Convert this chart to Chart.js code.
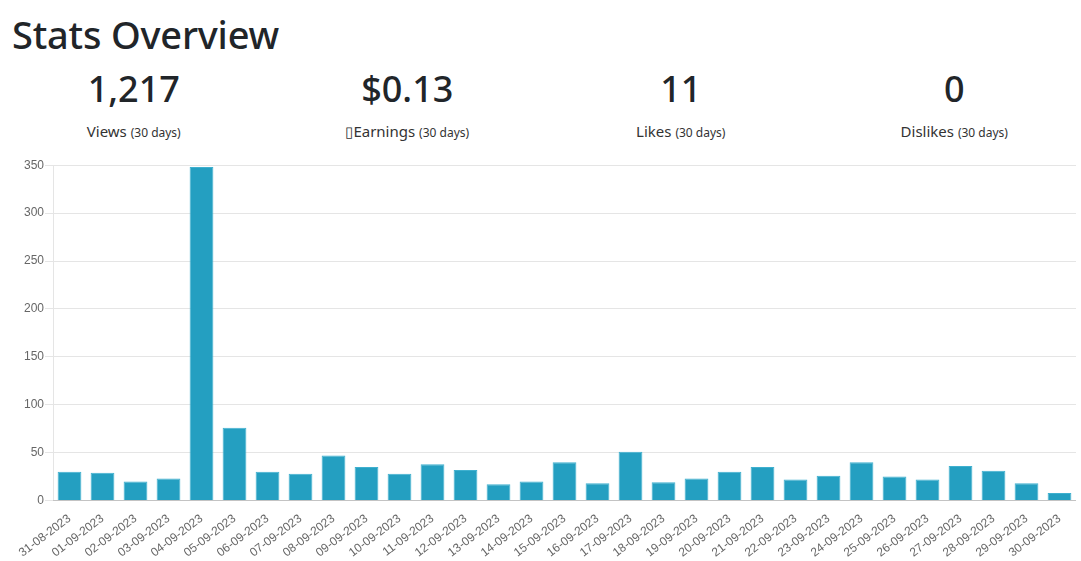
<!DOCTYPE html>
<html>
<head>
<meta charset="utf-8">
<script src="https://cdn.jsdelivr.net/npm/chart.js@4"></script>
<style>
  html, body { margin: 0; padding: 0; background: #fff; width: 1081px; height: 561px; overflow: hidden; }
  body { font-family: "Noto Sans", "Open Sans", sans-serif; color: #212529; position: relative; }
  h1 { position: absolute; left: 12px; top: 10px; margin: 0; font-size: 38px; font-weight: 500; line-height: 48px; letter-spacing: -0.2px; }
  .stats { position: absolute; left: -3px; top: 63px; width: 1094px; display: flex; }
  .stat { flex: 1; text-align: center; }
  .num { font-size: 36px; font-weight: 500; line-height: 52px; }
  .lbl { font-size: 15px; line-height: 20px; margin-top: 6px; color: #333; }
  .lbl small { font-size: 12px; }
  .wrap { position: absolute; left: 17px; top: 157px; width: 1059px; height: 406px; }
</style>
</head>
<body>
<h1>Stats Overview</h1>
<div class="stats" id="stats"></div>
<div class="wrap"><canvas id="c"></canvas></div>
<script>
const statValues = ["1,217", "$0.13", "11", "0"];
const statLabels = ["Views", "\u25AFEarnings", "Likes", "Dislikes"];
const statPeriod = "(30 days)";

const dates = ["31-08-2023","01-09-2023","02-09-2023","03-09-2023","04-09-2023","05-09-2023","06-09-2023","07-09-2023","08-09-2023","09-09-2023","10-09-2023","11-09-2023","12-09-2023","13-09-2023","14-09-2023","15-09-2023","16-09-2023","17-09-2023","18-09-2023","19-09-2023","20-09-2023","21-09-2023","22-09-2023","23-09-2023","24-09-2023","25-09-2023","26-09-2023","27-09-2023","28-09-2023","29-09-2023","30-09-2023"];
const views = [30,29,20,23,348,76,30,28,47,35,28,38,32,17,20,40,18,51,19,23,30,35,22,26,40,25,22,36,31,18,8];

const statsEl = document.getElementById('stats');
statValues.forEach((v, i) => {
  const d = document.createElement('div');
  d.className = 'stat';
  d.innerHTML = '<div class="num"></div><div class="lbl"><span></span> <small></small></div>';
  d.querySelector('.num').textContent = v;
  d.querySelector('.lbl span').textContent = statLabels[i];
  d.querySelector('.lbl small').textContent = statPeriod;
  statsEl.appendChild(d);
});

Chart.defaults.font.family = '"Liberation Sans", Arial, Helvetica, sans-serif';
Chart.defaults.font.size = 12;
Chart.defaults.color = '#666';

new Chart(document.getElementById('c'), {
  type: 'bar',
  data: {
    labels: dates,
    datasets: [{
      label: 'Views',
      data: views,
      backgroundColor: '#249fc1',
      borderColor: '#3fb0cf',
      borderWidth: 1
    }]
  },
  options: {
    responsive: true,
    maintainAspectRatio: false,
    animation: false,
    plugins: { legend: { display: false }, tooltip: { enabled: false } },
    scales: {
      x: {
        grid: { display: false },
        border: { color: 'rgba(0,0,0,0.15)' },
        ticks: { minRotation: 37, maxRotation: 37, autoSkip: false }
      },
      y: {
        min: 0, max: 350,
        ticks: { stepSize: 50, padding: 1 },
        grid: { color: 'rgba(0,0,0,0.1)', tickLength: 8 },
        border: { color: 'rgba(0,0,0,0.1)' }
      }
    }
  }
});
</script>
</body>
</html>
